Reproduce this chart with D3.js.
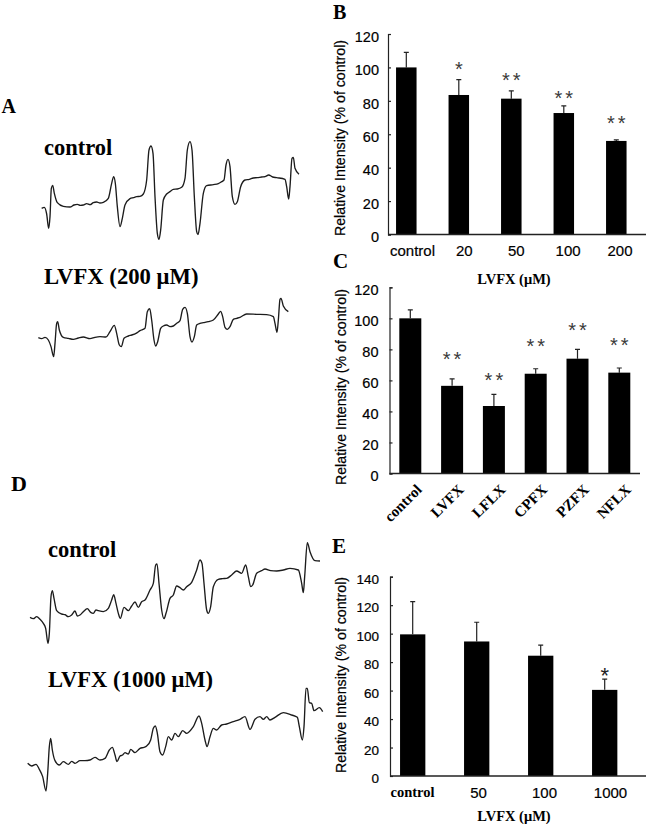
<!DOCTYPE html>
<html>
<head>
<meta charset="utf-8">
<script src="https://cdn.jsdelivr.net/npm/d3@7"></script>
<style>
  html, body { margin: 0; padding: 0; background: #fff; }
  svg { display: block; }
  .serif { font-family: "Liberation Serif", serif; font-weight: bold; fill: #000; }
  .sans { font-family: "Liberation Sans", sans-serif; fill: #000; stroke: #000; stroke-width: 0.2; }
</style>
</head>
<body>
<svg id="fig" width="651" height="824"></svg>
<script>
// bar panel B
const catsB = ["control", "20", "50", "100", "200"];
const valsB = [100, 83.5, 81.3, 72.7, 56];
const errTopB = [109, 92.7, 86, 77, 56.6];
const starsB = ["", "*", "**", "**", "**"];
const starValsB = [0, 101.5, 95, 84.5, 69];
const ticksB = [0, 20, 40, 60, 80, 100, 120];

// bar panel C
const catsC = ["control", "LVFX", "LFLX", "CPFX", "PZFX", "NFLX"];
const valsC = [100, 56.5, 43.5, 64.3, 74, 65];
const errTopC = [105.5, 61, 51, 67.5, 80, 68];
const starsC = ["", "**", "**", "**", "**", "**"];
const starValsC = [0, 76.5, 63, 85, 95.5, 85.5];
const ticksC = [0, 20, 40, 60, 80, 100, 120];

// bar panel E
const catsE = ["control", "50", "100", "1000"];
const valsE = [99.5, 94.5, 84.5, 60.5];
const errTopE = [122.5, 108, 92, 68];
const starsE = ["", "", "", "*"];
const starValsE = [0, 0, 0, 74];
const ticksE = [0, 20, 40, 60, 80, 100, 120, 140];

// EPR traces as [field, signal]
const traceAControl = [[125,355],[133,352],[140,372],[146,415],[150,380],[154,295],[158,286],[163,310],[172,338],[190,349],[210,351],[222,345],[232,343],[241,346],[250,345],[260,341],[270,344],[280,338],[290,336],[300,339],[310,337],[325,325],[335,280],[341,260],[346,280],[352,350],[360,410],[367,385],[375,345],[390,326],[400,323],[410,320],[420,319],[430,312],[440,270],[447,180],[453,168],[459,190],[465,320],[472,430],[477,448],[482,420],[490,330],[500,312],[510,305],[520,298],[532,297],[545,292],[555,265],[562,180],[570,155],[576,180],[583,320],[590,425],[594,434],[600,400],[610,310],[620,287],[640,284],[655,281],[665,275],[672,270],[678,225],[684,208],[690,230],[697,320],[705,343],[712,335],[722,290],[735,270],[748,268],[760,264],[772,263],[785,261],[795,260],[806,255],[818,261],[830,263],[855,268],[860,290],[866,327],[870,290],[876,205],[880,202],[885,235],[897,253]];
const traceALvfx = [[115,743],[125,746],[135,742],[145,750],[153,770],[161,800],[165,760],[170,700],[173,695],[178,720],[190,742],[205,745],[220,748],[235,744],[250,741],[270,746],[285,742],[300,740],[318,741],[330,725],[343,706],[350,730],[358,765],[364,770],[372,745],[385,738],[395,735],[408,730],[420,722],[435,715],[442,665],[449,656],[455,690],[462,750],[467,768],[473,755],[482,715],[490,708],[500,705],[510,710],[520,708],[530,700],[540,692],[548,658],[555,652],[562,670],[570,740],[576,756],[583,740],[590,705],[600,700],[610,698],[625,695],[640,690],[655,672],[662,664],[668,680],[675,712],[682,718],[690,710],[700,688],[710,685],[720,682],[740,672],[770,673],[800,674],[820,680],[825,700],[831,727],[835,690],[840,628],[843,625],[850,648],[865,665]];
const traceDControl = [[90,292],[100,296],[110,290],[120,298],[130,310],[137,325],[144,370],[148,340],[153,230],[157,212],[162,235],[170,272],[185,282],[195,284],[205,290],[215,285],[225,273],[232,288],[240,285],[250,275],[262,266],[272,277],[280,280],[288,270],[295,272],[310,275],[325,265],[335,240],[341,224],[348,250],[355,280],[361,295],[372,262],[385,272],[395,258],[405,246],[415,262],[425,245],[435,240],[450,210],[460,190],[467,135],[471,132],[477,190],[485,270],[492,296],[498,280],[510,235],[520,225],[530,198],[540,203],[550,210],[560,200],[575,187],[590,150],[600,120],[606,130],[612,190],[620,270],[625,280],[632,260],[640,200],[655,178],[668,176],[680,175],[695,165],[710,153],[725,160],[737,135],[745,170],[752,200],[758,195],[770,160],[785,152],[795,147],[812,152],[830,153],[850,150],[870,145],[895,150],[905,190],[910,218],[914,170],[922,68],[930,95],[945,122],[960,123]];
const traceDLvfx = [[83,730],[95,738],[108,733],[118,748],[128,770],[138,813],[143,760],[148,680],[152,655],[157,690],[165,722],[178,735],[190,725],[205,733],[215,724],[225,730],[240,722],[255,722],[270,720],[285,712],[300,720],[315,715],[328,690],[337,682],[345,705],[351,725],[360,708],[368,705],[375,698],[385,702],[392,688],[405,698],[420,685],[432,682],[440,678],[452,660],[460,625],[466,618],[472,640],[480,695],[488,705],[497,680],[505,650],[515,660],[525,640],[535,650],[548,632],[560,640],[580,620],[597,588],[605,610],[615,660],[621,680],[630,650],[640,625],[650,630],[665,615],[680,612],[700,605],[720,598],[735,590],[750,628],[765,598],[780,590],[790,598],[800,590],[810,600],[825,592],[850,578],[875,585],[892,592],[898,620],[907,660],[912,620],[918,505],[922,505],[928,548],[935,550],[942,572],[958,563],[968,575]];

const svg = d3.select("#fig");
const yTitle = "Relative Intensity (% of control)";

function addText(x, y, str, cls, size) {
  return svg.append("text").attr("class", cls).attr("x", x).attr("y", y)
    .attr("font-size", size).text(str);
}

// one EPR trace, scaled from reading units to the page
function drawTrace(data, xScale, yScale) {
  const line = d3.line()
    .x(d => xScale(d[0]))
    .y(d => yScale(d[1]))
    .curve(d3.curveMonotoneX);
  svg.append("path").attr("d", line(data))
    .attr("fill", "none").attr("stroke", "#1c1c1c").attr("stroke-width", 1.35);
}

function drawBars(p) {
  const y = d3.scaleLinear().domain(p.yDomain).range([p.y0, p.y1]);
  const x = d3.scalePoint().domain(p.cats).range(p.barRange);
  const g = svg.append("g");

  // error bars first so the bars sit on top
  g.selectAll(".err").data(p.cats).enter().append("path")
    .attr("d", (c, i) => `M${x(c)},${y(p.vals[i])}V${y(p.errTop[i])}m-2.5,0h5`)
    .attr("fill", "none").attr("stroke", "#222").attr("stroke-width", 1.2);

  g.selectAll("rect").data(p.cats).enter().append("rect")
    .attr("x", c => x(c) - p.barW / 2)
    .attr("y", (c, i) => y(p.vals[i]))
    .attr("width", p.barW)
    .attr("height", (c, i) => y(0) - y(p.vals[i]))
    .attr("fill", "#000");

  const yAxis = d3.axisLeft(y).tickValues(p.ticks).tickSize(-3).tickPadding(p.tickPad);
  const yG = g.append("g").attr("transform", `translate(${p.x0},0)`).call(yAxis);
  yG.selectAll("text").attr("class", "sans").attr("font-size", p.tickFont)
    .attr("font-family", "Liberation Sans").attr("dy", "0.5em");
  yG.selectAll("line,path").attr("stroke", "#222").attr("stroke-width", 1.2);

  const xAxis = d3.scalePoint().domain(p.cats).range(p.labelRange);
  const xG = g.append("g").attr("transform", `translate(0,${p.y0})`)
    .call(d3.axisBottom(xAxis).tickSize(0).tickPadding(p.labelPad));
  xG.select("path").remove();
  xG.selectAll("text").attr("class", "sans").attr("font-size", 15)
    .attr("font-family", "Liberation Sans");
  g.append("line").attr("x1", p.x0).attr("x2", p.x2).attr("y1", p.y0).attr("y2", p.y0)
    .attr("stroke", "#222").attr("stroke-width", 1.3);
  if (p.fixLabels) p.fixLabels(xG);

  // starVals hold the centre of each star, dy drops the glyph onto it
  g.selectAll(".star").data(p.cats).enter().append("text")
    .attr("x", c => x(c) + (p.stars[p.cats.indexOf(c)].length > 1 ? 1.5 : 0))
    .attr("y", (c, i) => y(p.starVals[i]))
    .attr("dy", "0.56em")
    .attr("text-anchor", "middle")
    .attr("font-family", "Liberation Sans")
    .attr("font-size", p.starFont)
    .attr("letter-spacing", (c, i) => p.stars[i].length > 1 ? 3 : 0)
    .attr("fill", p.starFill)
    .text((c, i) => p.stars[i]);

  svg.append("text").attr("class", "sans")
    .attr("transform", `translate(${p.titleX},${p.titleY}) rotate(-90)`)
    .attr("text-anchor", "middle").attr("font-size", 14)
    .attr("textLength", 196).attr("lengthAdjust", "spacingAndGlyphs")
    .text(yTitle);
}

drawBars({
  cats: catsB, vals: valsB, errTop: errTopB, stars: starsB, starVals: starValsB, ticks: ticksB,
  yDomain: [0, 120], y0: 234.5, y1: 34, x0: 388, x2: 646, barRange: [406.3, 616.3], barW: 20.5,
  tickPad: 9, tickFont: 14.5, labelRange: [412, 619.5], labelPad: 11, starFont: 20, starFill: "#3a3a3a",
  titleX: 345, titleY: 138
});

drawBars({
  cats: catsC, vals: valsC, errTop: errTopC, stars: starsC, starVals: starValsC, ticks: ticksC,
  yDomain: [0, 120], y0: 473.5, y1: 287.3, x0: 389.5, x2: 640, barRange: [410.3, 619.3], barW: 22,
  tickPad: 11, tickFont: 14.5, labelRange: [410.3, 619.3], labelPad: 0, starFont: 20, starFill: "#3a3a3a",
  titleX: 346, titleY: 387,
  fixLabels: xG => {
    xG.selectAll("text")
      .attr("class", "serif")
      .attr("font-family", "Liberation Serif")
      .attr("font-size", 15)
      .attr("text-anchor", "end")
      .attr("dy", 0).attr("y", 0)
      .attr("transform", "translate(12,17) rotate(-45)");
  }
});

drawBars({
  cats: catsE, vals: valsE, errTop: errTopE, stars: starsE, starVals: starValsE, ticks: ticksE,
  yDomain: [0, 140], y0: 776, y1: 576.7, x0: 390, x2: 646, barRange: [412.7, 604.7], barW: 25.3,
  tickPad: 11, tickFont: 13.5, labelRange: [412, 610], labelPad: 11, starFont: 22, starFill: "#222",
  titleX: 346, titleY: 675,
  fixLabels: xG => {
    xG.selectAll("text").filter(d => d === "control")
      .attr("class", "serif").attr("font-family", "Liberation Serif").attr("font-size", 14.5);
  }
});

// EPR spectra, A then D
const xA = d3.scaleLinear().domain([0, 960]).range([0, 320]);
const yA = d3.scaleLinear().domain([0, 870]).range([90, 380]);
const xD = d3.scaleLinear().domain([0, 990]).range([0, 330]);
const yD = d3.scaleLinear().domain([0, 780]).range([520, 780]);
drawTrace(traceAControl, xA, yA);
drawTrace(traceALvfx, xA, yA);
drawTrace(traceDControl, xD, yD);
drawTrace(traceDLvfx, xD, yD);

// panel letters and captions
addText(1.5, 113, "A", "serif", 20);
addText(333, 18.5, "B", "serif", 20);
addText(333, 268, "C", "serif", 21);
addText(11, 491, "D", "serif", 22);
addText(332, 553, "E", "serif", 21);

addText(44, 155, "control", "serif", 22.5);
addText(44, 284, "LVFX (200 \u03BCM)", "serif", 22.7);
addText(48, 557, "control", "serif", 22.5);
addText(48, 687, "LVFX (1000 \u03BCM)", "serif", 22.6);

addText(514, 284, "LVFX (\u03BCM)", "serif", 14.5).attr("text-anchor", "middle");
addText(514, 820.5, "LVFX (\u03BCM)", "serif", 14.5).attr("text-anchor", "middle");
</script>
</body>
</html>
